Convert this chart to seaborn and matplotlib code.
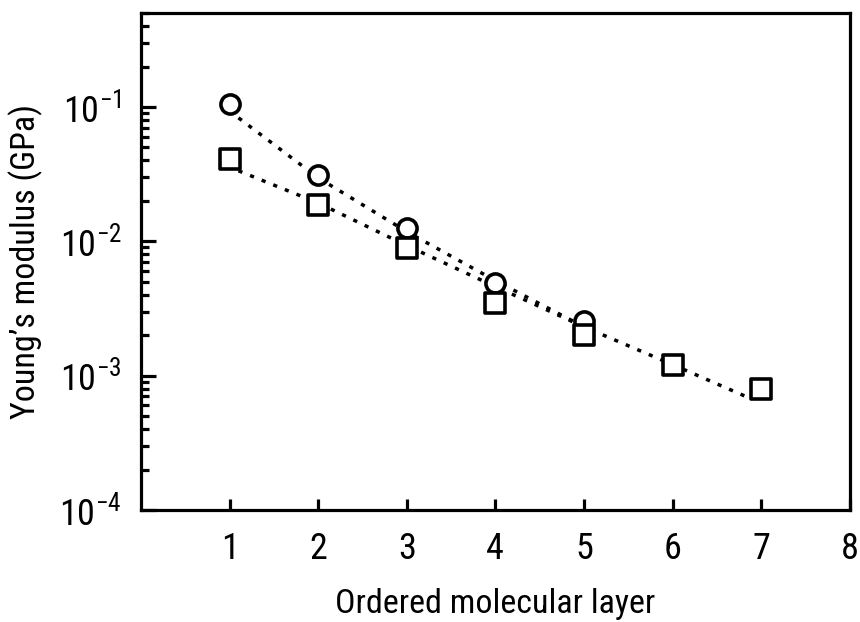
import math
import matplotlib
matplotlib.use("Agg")
import matplotlib.pyplot as plt
import matplotlib.ticker as mticker
from matplotlib import font_manager
import pandas as pd
import seaborn as sns

# measured points
layers_circle = [1, 2, 3, 4, 5]
modulus_circle = [0.105, 0.031, 0.0126, 0.0049, 0.00254]
layers_square = [1, 2, 3, 4, 5, 6, 7]
modulus_square = [0.041, 0.0187, 0.0089, 0.00346, 0.0020, 0.0012, 0.00079]

# dotted guide curves
fit_x_circle = [1.1, 2, 3, 4, 5, 6, 6.85]
fit_y_circle = [0.083, 0.0297, 0.0118, 0.0051, 0.00231, 0.00121, 0.00069]
fit_x_square = [1.1, 2, 3, 4, 4.4, 5]
fit_y_square = [0.0335, 0.0193, 0.0093, 0.0046, 0.0035, 0.00231]

x_ticks = [1, 2, 3, 4, 5, 6, 7, 8]
y_ticks = [1e-4, 1e-3, 1e-2, 1e-1]

sns.set_style("ticks")

# pick a narrow face if one is around
installed = {f.name for f in font_manager.fontManager.ttflist}
candidates = ["Roboto Condensed", "Liberation Sans Narrow", "Open Sans Condensed",
              "Roboto", "Liberation Sans"]
face = next((c for c in candidates if c in installed), "DejaVu Sans")
plt.rcParams["font.family"] = [face, "DejaVu Sans"]
plt.rcParams["mathtext.fontset"] = "custom"
plt.rcParams["mathtext.rm"] = face
plt.rcParams["mathtext.it"] = face
for key in ["text.color", "axes.labelcolor", "xtick.color", "ytick.color", "axes.edgecolor"]:
    plt.rcParams[key] = "black"

fig = plt.figure(figsize=(8.6, 6.22), dpi=100)
ax = fig.add_axes([0.164, 0.18, 0.824, 0.799])

dots = (0, (1.2, 2.4))
sns.lineplot(x=fit_x_circle, y=fit_y_circle, ax=ax, color="black", lw=2.5, linestyle=dots)
sns.lineplot(x=fit_x_square, y=fit_y_square, ax=ax, color="black", lw=2.5, linestyle=dots)

df_c = pd.DataFrame({"layer": layers_circle, "E": modulus_circle})
df_s = pd.DataFrame({"layer": layers_square, "E": modulus_square})
sns.scatterplot(data=df_c, x="layer", y="E", ax=ax, marker="o", s=190,
                facecolor="white", edgecolor="black", linewidth=2.6, zorder=3)
sns.scatterplot(data=df_s, x="layer", y="E", ax=ax, marker="s", s=190,
                facecolor="white", edgecolor="black", linewidth=2.6, zorder=3)

ax.set_yscale("log")
ax.set_xlim(0, 8)
ax.set_ylim(1e-4, 0.5)
ax.set_xticks(x_ticks)
ax.set_yticks(y_ticks)
ax.yaxis.set_major_formatter(mticker.FuncFormatter(
    lambda v, p: r"$\mathregular{10^{%d}}$" % round(math.log10(v))))
ax.yaxis.set_minor_locator(mticker.LogLocator(base=10, subs=range(2, 10), numticks=20))
ax.yaxis.set_minor_formatter(mticker.NullFormatter())

for s in ax.spines.values():
    s.set_linewidth(2.3)
ax.tick_params(axis="both", which="both", direction="in", width=2.3,
               top=False, right=False, labelsize=26)
ax.tick_params(axis="y", which="major", length=11, pad=14)
ax.tick_params(axis="y", which="minor", length=6)
ax.tick_params(axis="x", which="major", length=8, pad=15)

ax.set_xlabel("Ordered molecular layer", fontsize=24.5, labelpad=15)
ax.set_ylabel("Young\u2019s modulus (GPa)", fontsize=24.5, labelpad=12)

fig.savefig("out.png", dpi=100)
